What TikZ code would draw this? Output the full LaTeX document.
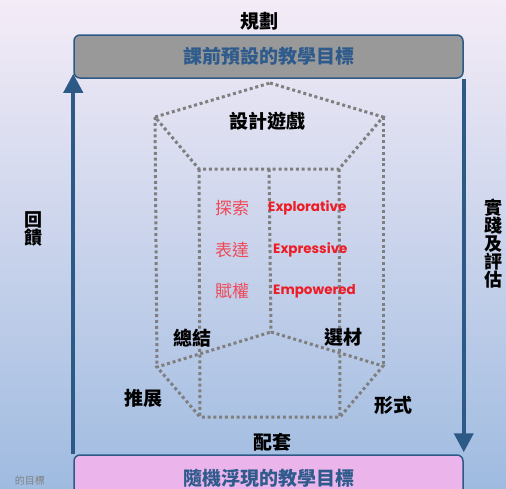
\documentclass[tikz,border=0pt]{standalone}
\usepackage{fontspec}
\usetikzlibrary{arrows.meta}
\newfontfamily\cjk{Noto Sans CJK TC}
\newfontfamily\engfont{Poppins}
\definecolor{arrowblue}{HTML}{2C5985}
\definecolor{textblue}{HTML}{2E5B8C}
\definecolor{boxgray}{HTML}{999999}
\definecolor{boxpink}{HTML}{EBB5EB}
\definecolor{dotgray}{HTML}{7F7F7F}
\definecolor{lightred}{HTML}{F04858}
\definecolor{strongred}{HTML}{EE1C25}
\definecolor{bgtop}{HTML}{F4ECF7}
\definecolor{bgmid}{HTML}{DCDEF1}
\definecolor{bgbot}{HTML}{9FBBE0}
\tikzset{
  goalbox/.style={draw=arrowblue, line width=1.5pt, rounded corners=6pt,
    minimum width=389pt, minimum height=43pt, inner sep=0pt,
    font=\cjk\bfseries\fontsize{19}{19}\selectfont, text=textblue},
  cjklabel/.style={font=\cjk\bfseries\fontsize{19}{19}\selectfont, text=black, inner sep=0pt},
  sidelabel/.style={font=\cjk\bfseries\fontsize{18}{19}\selectfont, text=black, inner sep=0pt, align=center},
  redcjk/.style={font=\cjk\fontsize{17}{17}\selectfont, text=lightred, inner sep=0pt},
  redeng/.style={font=\engfont\bfseries\fontsize{13.5}{14}\selectfont, text=strongred, inner sep=0pt, anchor=west},
  dotline/.style={draw=dotgray, line width=3pt, dash pattern=on 3pt off 2.8pt},
  flow/.style={draw=arrowblue, line width=4pt, -{Triangle[width=19pt,length=19pt]}}
}
\begin{document}
\begin{tikzpicture}[x=1pt,y=-1pt]
\useasboundingbox (0,0) rectangle (506,488);
\shade[top color=bgtop, middle color=bgmid, bottom color=bgbot] (0,0) rectangle (506,488);

% goal boxes
\node[goalbox, fill=boxgray] (plan) at (268.5,56.5) {課前預設的教學目標};
\node[goalbox, fill=boxpink, minimum height=46pt] (emerge) at (268.5,478) {隨機浮現的教學目標};

% arrows
\draw[flow, shorten >=-5pt] (emerge.north west) -- (plan.south west);
\draw[flow, shorten >=2pt] (plan.south east) -- (emerge.north east);

% prism
\coordinate (T1) at (270,83);
\coordinate (T2) at (383,117);
\coordinate (T3) at (339,169);
\coordinate (T4) at (199,169);
\coordinate (T5) at (155,117);
\coordinate (M) at (269,169);
\coordinate (B1) at (271,332);
\coordinate (B2) at (383,366);
\coordinate (B3) at (340,417);
\coordinate (B4) at (200,417);
\coordinate (B5) at (157,367);
\draw[dotline] (T1) -- (T2) -- (T3) -- (T4) -- (T5) -- cycle;
\draw[dotline] (B1) -- (B2) -- (B3) -- (B4) -- (B5) -- cycle;
\draw[dotline] (T5) -- (B5);
\draw[dotline] (T4) -- (B4);
\draw[dotline] (M) -- (B1);
\draw[dotline] (T3) -- (B3);
\draw[dotline] (T2) -- (B2);

% labels
\node[cjklabel] (guihua) at (259,21) {規劃};
\node[cjklabel] (game) at (267,121) {設計遊戲};
\node[cjklabel] (zongjie) at (192,338) {總結};
\node[cjklabel] (xuancai) at (343,337) {選材};
\node[cjklabel] (tuizhan) at (143,398) {推展};
\node[cjklabel] (xingshi) at (393,405) {形式};
\node[cjklabel] (peitao) at (272,442) {配套};
\node[sidelabel] (huikui) at (33,229) {回\\[-1pt]饋};
\node[sidelabel] (shijian) at (493,244) {實\\[-1pt]踐\\[-1pt]及\\[-1pt]評\\[-1pt]估};

\node[redcjk] (tansuo) at (232,208) {探索};
\node[redeng] (explo) at (268,208) {Explorative};
\node[redcjk] (biaoda) at (232,250) {表達};
\node[redeng] (expre) at (273,250) {Expressive};
\node[redcjk] (fuquan) at (232,291) {賦權};
\node[redeng] (empow) at (273,291) {Empowered};

\node[font=\cjk\fontsize{10}{10}\selectfont, text=gray, anchor=east, inner sep=0pt] (cut) at (45,481) {的目標};
\end{tikzpicture}
\end{document}
